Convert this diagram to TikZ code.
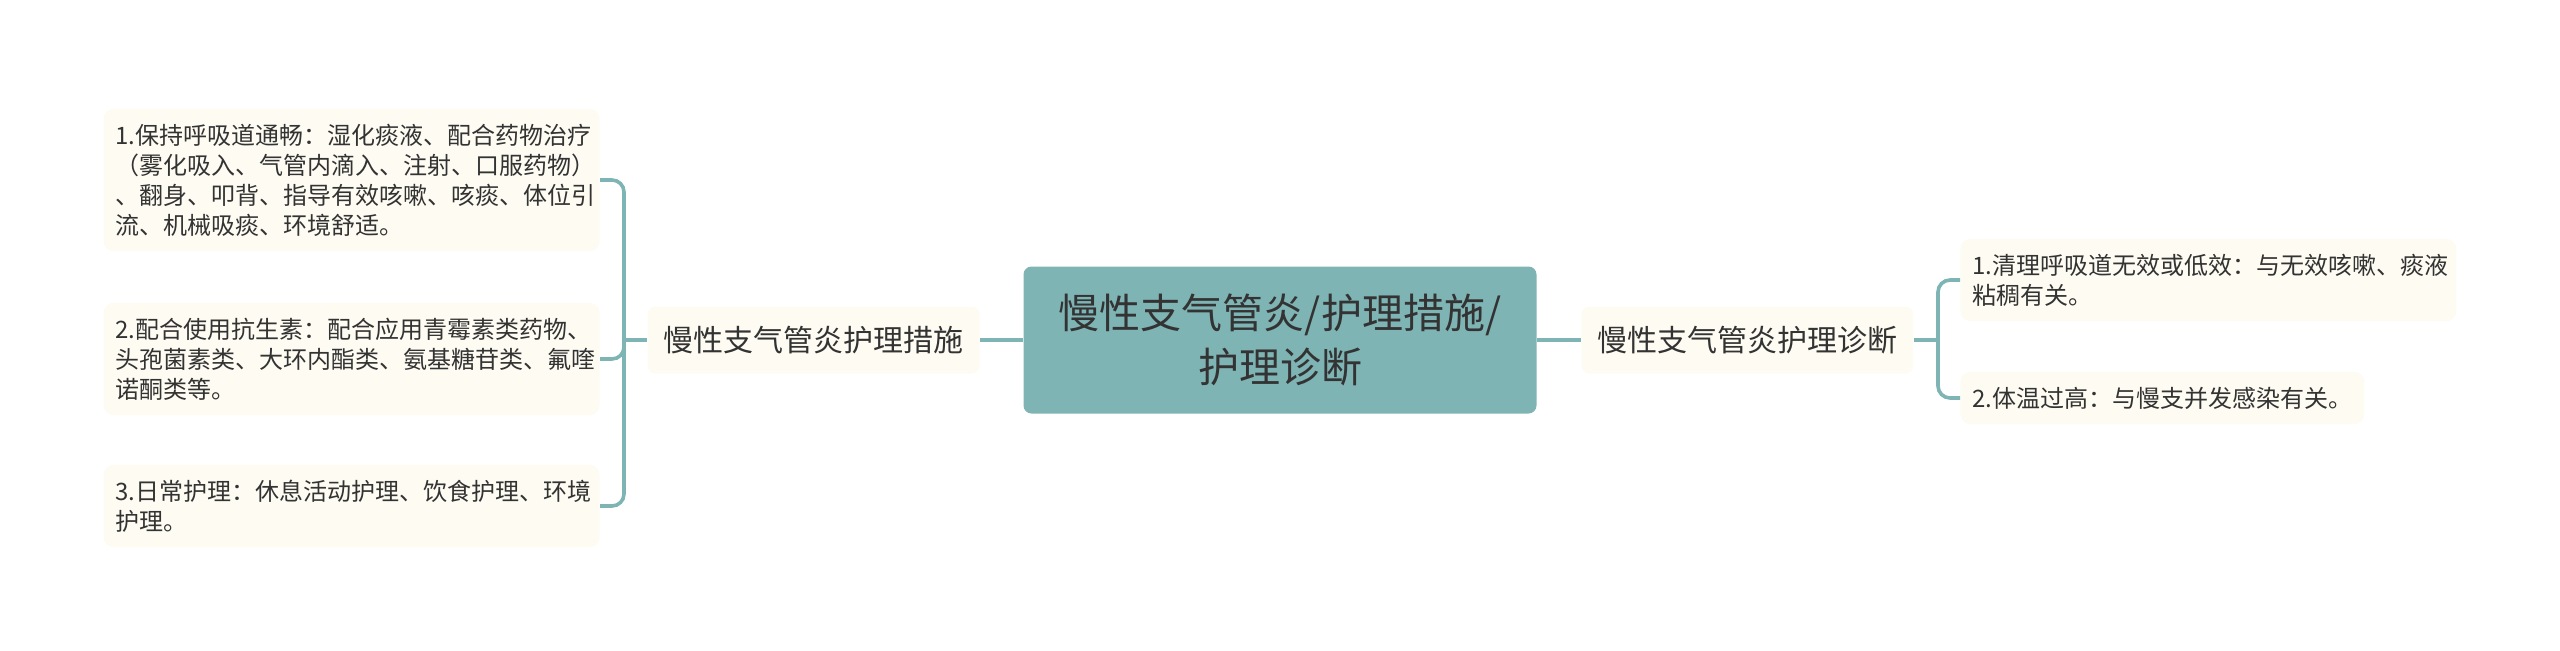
\documentclass[tikz,border=0pt]{standalone}
\usepackage{fontspec}
\setmainfont{Noto Sans CJK SC}
\usepackage{tikz}
\usepackage{xcolor}
\definecolor{raiz}{HTML}{7FB4B5}
\definecolor{linea}{HTML}{7FB4B5}
\definecolor{crema}{HTML}{FDFBF2}
\definecolor{texto}{HTML}{333333}

\begin{document}
\begin{tikzpicture}[x=0.5pt,y=-0.5pt,
    raizbox/.style={fill=raiz, rounded corners=4pt, text=texto, align=center,
        font=\fontsize{20.5}{27}\selectfont, minimum width=256.5pt, minimum height=73.5pt},
    ramabox/.style={fill=crema, rounded corners=4pt, text=texto,
        font=\fontsize{15}{18}\selectfont, inner xsep=8pt, minimum height=33.5pt},
    hojabox/.style={fill=crema, rounded corners=5pt, text=texto, align=left,
        font=\fontsize{12}{15}\selectfont, inner xsep=6pt, inner ysep=7.5pt},
    anchabox/.style={hojabox, text width=236pt},
    conector/.style={draw=linea, line width=1.8pt, rounded corners=6pt}]
        % Fija el tamano del dibujo
        \useasboundingbox (0,0) rectangle (2560,650);

        % Nodo central
        \node[raizbox] (raiz) at (1280,340) {慢性支气管炎/护理措施/\\护理诊断};

        % Ramas principales
        \node[ramabox, anchor=east] (medidas) at (980,340) {慢性支气管炎护理措施};
        \node[ramabox, anchor=west] (diagnostico) at (1581,340) {慢性支气管炎护理诊断};

        % Hojas de la izquierda (护理措施)
        \node[anchabox, anchor=east] (m1) at (600,180)
            {1.保持呼吸道通畅：湿化痰液、配合药物治疗\\（雾化吸入、气管内滴入、注射、口服药物）\\、翻身、叩背、指导有效咳嗽、咳痰、体位引\\流、机械吸痰、环境舒适。};
        \node[anchabox, anchor=east] (m2) at (600,359)
            {2.配合使用抗生素：配合应用青霉素类药物、\\头孢菌素类、大环内酯类、氨基糖苷类、氟喹\\诺酮类等。};
        \node[anchabox, anchor=east] (m3) at (600,506)
            {3.日常护理：休息活动护理、饮食护理、环境\\护理。};

        % Hojas de la derecha (护理诊断)
        \node[anchabox, anchor=west] (d1) at (1960,280)
            {1.清理呼吸道无效或低效：与无效咳嗽、痰液\\粘稠有关。};
        \node[hojabox, anchor=west] (d2) at (1960,398)
            {2.体温过高：与慢支并发感染有关。};

        % Conectores
        \coordinate (cm) at (624,340);
        \coordinate (cd) at (1938,340);
        \draw[conector] (raiz.west) -- (medidas.east);
        \draw[conector] (raiz.east) -- (diagnostico.west);
        \draw[conector] (medidas.west) -- (cm);
        \draw[conector] (diagnostico.east) -- (cd);
        \foreach \h in {m1,m2,m3}
            \draw[conector] (cm) |- (\h.east);
        \foreach \h in {d1,d2}
            \draw[conector] (cd) |- (\h.west);
    \end{tikzpicture}
\end{document}
